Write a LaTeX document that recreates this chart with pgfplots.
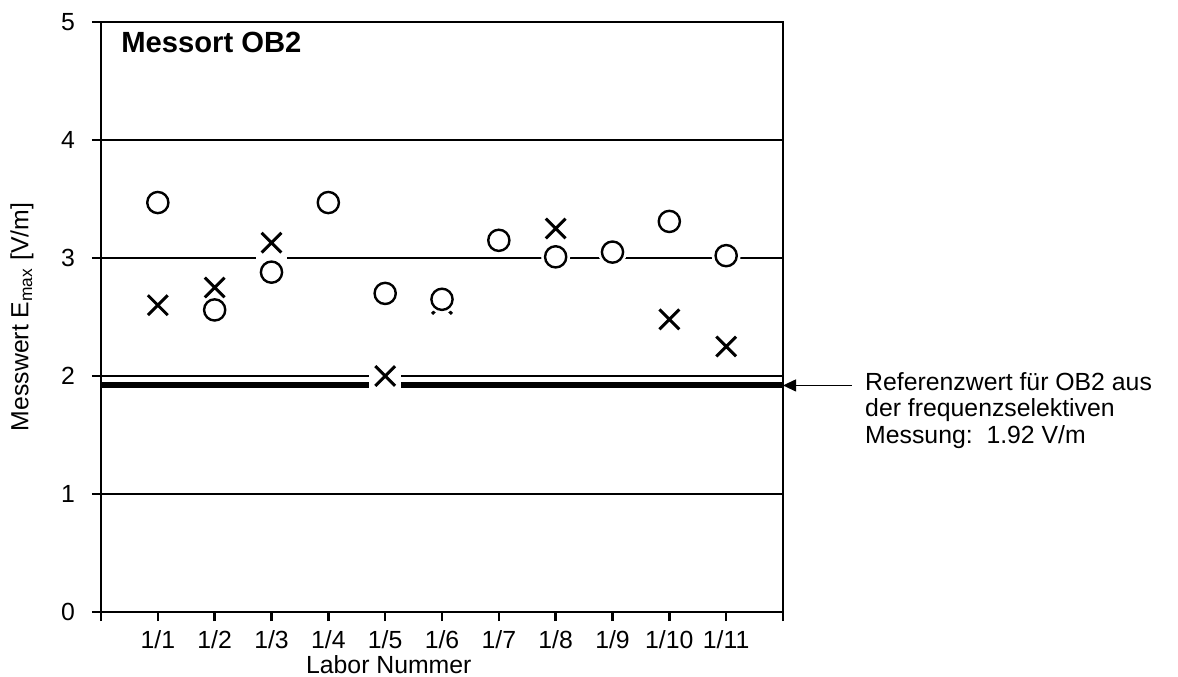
\documentclass[border=0pt]{standalone}
\usepackage{fontspec}
\setmainfont{Liberation Sans}
\usepackage{pgfplots}
\pgfplotsset{compat=1.18}
\usepackage{pgfplotstable}
\usetikzlibrary{arrows.meta}

% Messwerte E_max je Labor: Kreise und Kreuze
\pgfplotstableread{
x  y
1  3.47
2  2.56
3  2.88
4  3.47
5  2.70
6  2.65
7  3.15
8  3.01
9  3.05
10 3.31
11 3.02
}\circles
\pgfplotstableread{
x  y
1  2.60
2  2.75
3  3.13
5  2.00
6  2.61
8  3.25
10 2.48
11 2.25
}\crosses

\newcommand{\lblfont}{\fontsize{12.4}{14.8}\selectfont}

\begin{document}
\begin{tikzpicture}
\useasboundingbox (-50.5pt,-32pt) rectangle (538.5pt,306pt);
\begin{axis}[
  scale only axis,
  width=341pt, height=295pt,
  xmin=0, xmax=12, ymin=0, ymax=5,
  xtick={0,...,12},
  xticklabels={,1/1,1/2,1/3,1/4,1/5,1/6,1/7,1/8,1/9,1/10,1/11,},
  ytick={0,...,5},
  xtick pos=lower, ytick pos=left,
  tick align=outside,
  major tick length=4.5pt,
  tick style={line width=1.2pt, black},
  axis line style={line width=1.2pt, black},
  ymajorgrids,
  grid style={line width=1pt, black},
  font=\lblfont,
  /pgf/number format/assume math mode=true,
  ticklabel style={font=\lblfont},
  xticklabel style={yshift=-1pt},
  yticklabel style={xshift=-5pt},
  xlabel={Labor Nummer},
  xlabel style={at={(axis description cs:0.422,-0.1034)}, anchor=base},
  ylabel={Messwert E\textsubscript{max} [V/m]},
  ylabel style={at={(axis description cs:-0.1158,0.5)}, anchor=center},
  clip=false,
]
% Referenzwert aus der frequenzselektiven Messung
\addplot[line width=3pt, black] coordinates {(0,1.92) (12,1.92)};

% Kreuze mit weissem Hintergrund
\addplot[only marks, mark=square*, mark size=7.7pt, white] table[x=x,y=y] {\crosses};
\addplot[only marks, mark=x, mark size=7pt, line width=1.5pt, black] table[x=x,y=y] {\crosses};

% Kreise mit weissem Hintergrund
\addplot[only marks, mark=*, mark size=7pt, white] table[x=x,y=y] {\circles};
\addplot[only marks, mark=o, mark size=5.3pt, line width=1.2pt, black, mark options={fill=white}] table[x=x,y=y] {\circles};

\node[anchor=base west, inner sep=0pt, font=\fontsize{14.6}{17}\selectfont\bfseries]
  at (axis description cs:0.0293,0.949) {Messort OB2};

\draw[line width=0.6pt, -{Triangle[length=6.5pt,width=6pt]}] (axis cs:13.21,1.92) -- (axis cs:12,1.92);
\node[anchor=base west, inner sep=0pt] at (axis cs:13.44,1.881) {Referenzwert für OB2 aus};
\node[anchor=base west, inner sep=0pt] at (axis cs:13.44,1.653) {der frequenzselektiven};
\node[anchor=base west, inner sep=0pt] at (axis cs:13.44,1.424) {Messung:\ \ 1.92 V/m};
\end{axis}
\end{tikzpicture}
\end{document}
